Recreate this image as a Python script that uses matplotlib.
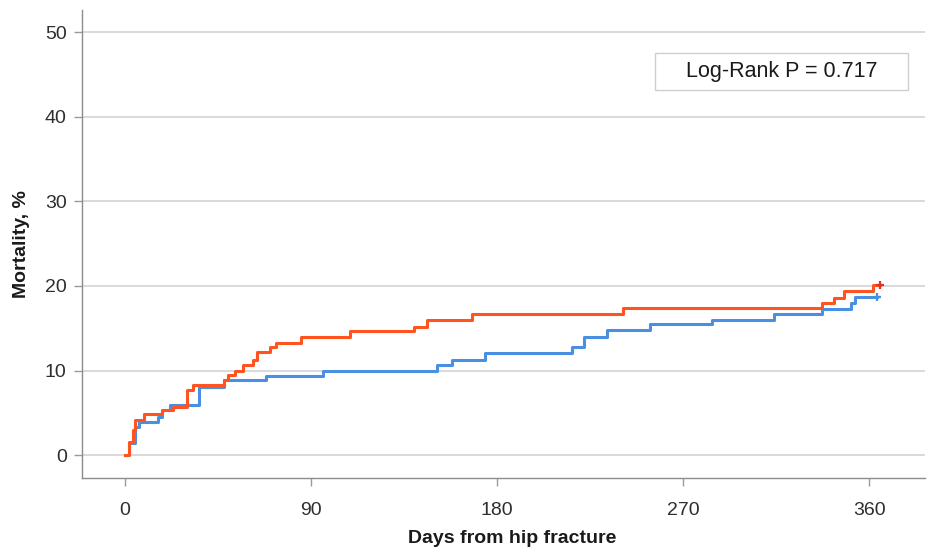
import matplotlib.pyplot as plt
from matplotlib.patches import Rectangle

plt.rcParams['font.family'] = ['Liberation Sans', 'DejaVu Sans']

# Kaplan-Meier style cumulative mortality (%), step changes by day
red_days = [0, 2, 4, 5, 9, 18, 23, 30, 33, 48, 50, 53, 57, 62, 64, 70, 73, 85,
            109, 140, 146, 168, 241, 337, 343, 348, 362, 365]
red_mort = [0, 1.5, 3.0, 4.1, 4.9, 5.3, 5.7, 7.7, 8.3, 8.9, 9.5, 10.0, 10.6, 11.2,
            12.2, 12.8, 13.3, 14.0, 14.7, 15.2, 16.0, 16.7, 17.4, 18.0, 18.6, 19.4,
            20.1, 20.1]

blue_days = [0, 2, 5, 7, 16, 18, 22, 36, 48, 68, 96, 151, 158, 174, 216, 222,
             233, 254, 284, 314, 337, 351, 353, 364]
blue_mort = [0, 1.4, 3.3, 3.9, 4.5, 5.3, 5.9, 8.1, 8.9, 9.4, 10.0, 10.6, 11.3,
             12.1, 12.8, 14.0, 14.8, 15.5, 16.0, 16.7, 17.3, 18.0, 18.7, 18.7]

x_ticks = [0, 90, 180, 270, 360]
y_ticks = [0, 10, 20, 30, 40, 50]
p_text = "Log-Rank P = 0.717"

red = '#FF5420'
blue = '#4A90E2'

fig = plt.figure(figsize=(9.39, 5.56), dpi=100)
ax = fig.add_axes([82 / 939, 78 / 556, 843 / 939, 468 / 556])

ax.plot(blue_days, blue_mort, drawstyle='steps-post', color=blue, lw=2.2, zorder=3)
ax.plot(red_days, red_mort, drawstyle='steps-post', color=red, lw=2.2, zorder=4)
# censor marks at the end of follow-up
ax.plot(blue_days[-1], blue_mort[-1], marker='+', ms=6, mew=1.6, color=blue, zorder=3)
ax.plot(red_days[-1], red_mort[-1], marker='+', ms=6, mew=1.6, color='#E8301A', zorder=4)

ax.set_xlim(-20.8, 387)
ax.set_ylim(-2.7, 52.6)
ax.set_xticks(x_ticks)
ax.set_yticks(y_ticks)

for y in y_ticks:
    ax.axhline(y, color='#D6D6DC', lw=1.3, zorder=1)

for side in ['top', 'right']:
    ax.spines[side].set_visible(False)
for side in ['left', 'bottom']:
    ax.spines[side].set_color('#8C8C8C')
    ax.spines[side].set_linewidth(1.0)

ax.tick_params(axis='both', colors='#9A9A9A', labelcolor='#2E2E2E', labelsize=14,
               length=6, width=1.0)
ax.tick_params(axis='x', pad=11)
ax.tick_params(axis='y', pad=5)

ax.set_xlabel('Days from hip fracture', fontsize=14, fontweight='bold', color='#1A1A1A')
ax.xaxis.set_label_coords(0.51, -0.112)
ax.set_ylabel('Mortality, %', fontsize=14, fontweight='bold', color='#1A1A1A')
ax.yaxis.set_label_coords(-0.062, 0.5)

box = Rectangle((0.6797, 0.829), 0.300, 0.079, transform=ax.transAxes,
                facecolor='white', edgecolor='#CFCFCF', lw=1.0, zorder=5)
ax.add_patch(box)
ax.text(0.6797 + 0.150, 0.829 + 0.0395, p_text, transform=ax.transAxes,
        ha='center', va='center', fontsize=15.5, color='#1A1A1A', zorder=6)

fig.savefig('out.png', dpi=100)
